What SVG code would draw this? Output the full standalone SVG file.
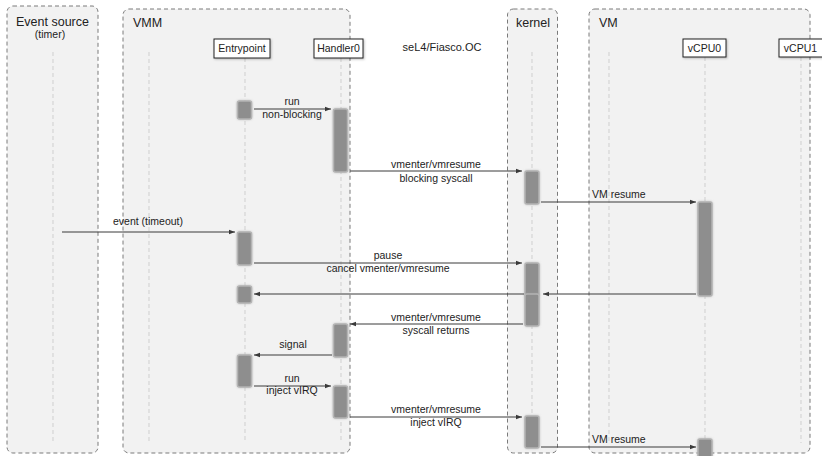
<svg xmlns="http://www.w3.org/2000/svg" width="822" height="456" viewBox="0 0 822 456">
  <style>
    .frame { fill: #f2f2f2; stroke: #7a7a7a; stroke-width: 1; stroke-dasharray: 4 3; }
    .title { font-family: "Liberation Sans", Arial, sans-serif; font-size: 12.5px; fill: #222; }
    .sub { font-family: "Liberation Sans", Arial, sans-serif; font-size: 10.5px; fill: #222; }
    .life { stroke: #cfcfcf; stroke-width: 1; stroke-dasharray: 4 3; fill: none; }
    .head { fill: #fff; stroke: #222; stroke-width: 1; }
    .lbl { font-family: "Liberation Sans", Arial, sans-serif; font-size: 10.5px; fill: #222; }
    .bar { fill: #8e8e8e; stroke: #b4b4b4; stroke-width: 1.5; filter: url(#soft); }
    .msg { stroke: #3a3a3a; stroke-width: 1; fill: none; marker-end: url(#arr); }
  </style>
  <defs>
    <marker id="arr" viewBox="0 0 6 6" refX="6" refY="3" markerWidth="6" markerHeight="6" markerUnits="userSpaceOnUse" orient="auto">
      <path d="M0,0.8 L6,3 L0,5.2 Z" fill="#3a3a3a"/>
    </marker>
    <filter id="soft" x="-40%" y="-20%" width="180%" height="140%">
      <feGaussianBlur in="SourceAlpha" stdDeviation="1.2" result="b"/>
      <feFlood flood-color="#9a9a9a" flood-opacity="0.6"/>
      <feComposite in2="b" operator="in" result="s"/>
      <feMerge><feMergeNode in="s"/><feMergeNode in="SourceGraphic"/></feMerge>
    </filter>
    <filter id="shadow" x="-10%" y="-20%" width="130%" height="160%">
      <feDropShadow dx="1" dy="1" stdDeviation="0.8" flood-color="#000" flood-opacity="0.25"/>
    </filter>
  </defs>

  <!-- grouping frames -->
  <g id="event-source">
    <rect class="frame" x="7" y="6" width="91" height="447" rx="6"/>
    <text class="title" x="52.5" y="26" text-anchor="middle">Event source</text>
    <text class="sub" x="50" y="38" text-anchor="middle">(timer)</text>
    <line class="life" x1="53" y1="52" x2="53" y2="443"/>
  </g>
  <g id="vmm">
    <rect class="frame" x="123" y="9" width="227" height="444" rx="6"/>
    <text class="title" x="133" y="27">VMM</text>
    <line class="life" x1="149" y1="52" x2="149" y2="443"/>
  </g>
  <g id="kernel">
    <rect class="frame" x="507.5" y="9" width="50" height="444" rx="6"/>
    <text class="title" x="516" y="27">kernel</text>
    <line class="life" x1="532" y1="52" x2="532" y2="443"/>
  </g>
  <g id="vm">
    <rect class="frame" x="589" y="9" width="221" height="444" rx="6"/>
    <text class="title" x="599" y="27">VM</text>
    <line class="life" x1="609" y1="52" x2="609" y2="443"/>
  </g>

  <text class="lbl" x="442" y="51" text-anchor="middle" style="font-size:11px">seL4/Fiasco.OC</text>

  <!-- participants -->
  <g id="entrypoint">
    <line class="life" x1="245" y1="58" x2="245" y2="443"/>
    <rect class="head" x="214" y="39" width="56" height="19" filter="url(#shadow)"/>
    <text class="lbl" x="242" y="52" text-anchor="middle">Entrypoint</text>
  </g>
  <g id="handler0">
    <line class="life" x1="341" y1="58" x2="341" y2="443"/>
    <rect class="head" x="314" y="39" width="49" height="19" filter="url(#shadow)"/>
    <text class="lbl" x="338.5" y="52" text-anchor="middle">Handler0</text>
  </g>
  <g id="vcpu0">
    <line class="life" x1="705" y1="57" x2="705" y2="456"/>
    <rect class="head" x="683" y="39" width="43" height="18" filter="url(#shadow)"/>
    <text class="lbl" x="704.5" y="52" text-anchor="middle">vCPU0</text>
  </g>
  <g id="vcpu1">
    <line class="life" x1="801" y1="57" x2="801" y2="443"/>
    <rect class="head" x="779" y="39" width="45" height="18" filter="url(#shadow)"/>
    <text class="lbl" x="800.5" y="52" text-anchor="middle">vCPU1</text>
  </g>

  <!-- activations -->
  <g id="activations">
    <rect class="bar" x="237.5" y="101" width="14" height="18" rx="2"/>
    <rect class="bar" x="237.5" y="232" width="14" height="33" rx="2"/>
    <rect class="bar" x="237.5" y="286" width="14" height="17" rx="2"/>
    <rect class="bar" x="237.5" y="355" width="14" height="32" rx="2"/>
    <rect class="bar" x="333.5" y="109" width="14" height="63" rx="2"/>
    <rect class="bar" x="333.5" y="324" width="14" height="33" rx="2"/>
    <rect class="bar" x="333.5" y="386" width="14" height="32" rx="2"/>
    <rect class="bar" x="525" y="171" width="14" height="33" rx="2"/>
    <rect class="bar" x="525" y="263" width="14" height="33" rx="2"/>
    <rect class="bar" x="525" y="294" width="14" height="32" rx="2"/>
    <rect class="bar" x="525" y="416" width="14" height="32" rx="2"/>
    <rect class="bar" x="698" y="202" width="14" height="94" rx="2"/>
    <rect class="bar" x="698" y="439" width="14" height="30" rx="2"/>
  </g>

  <!-- messages -->
  <g id="connectors">
    <line class="msg" x1="254" y1="109" x2="331" y2="109"/>
    <text class="lbl" x="292" y="105" text-anchor="middle">run</text>
    <text class="lbl" x="292" y="118" text-anchor="middle">non-blocking</text>

    <line class="msg" x1="350" y1="171" x2="522" y2="171"/>
    <text class="lbl" x="436" y="168" text-anchor="middle">vmenter/vmresume</text>
    <text class="lbl" x="436" y="182" text-anchor="middle">blocking syscall</text>

    <line class="msg" x1="541" y1="202" x2="696" y2="202"/>
    <text class="lbl" x="592" y="198">VM resume</text>

    <line class="msg" x1="62" y1="232" x2="235" y2="232"/>
    <text class="lbl" x="148" y="225" text-anchor="middle">event (timeout)</text>

    <line class="msg" x1="254" y1="263" x2="522" y2="263"/>
    <text class="lbl" x="388" y="259" text-anchor="middle">pause</text>
    <text class="lbl" x="388" y="272" text-anchor="middle">cancel vmenter/vmresume</text>

    <line class="msg" x1="696" y1="294" x2="543" y2="294"/>
    <line class="msg" x1="524" y1="294" x2="254" y2="294"/>

    <line class="msg" x1="523" y1="324" x2="350" y2="324"/>
    <text class="lbl" x="436" y="321" text-anchor="middle">vmenter/vmresume</text>
    <text class="lbl" x="436" y="334" text-anchor="middle">syscall returns</text>

    <line class="msg" x1="332" y1="355" x2="254" y2="355"/>
    <text class="lbl" x="293" y="348" text-anchor="middle">signal</text>

    <line class="msg" x1="254" y1="386" x2="331" y2="386"/>
    <text class="lbl" x="292" y="382" text-anchor="middle">run</text>
    <text class="lbl" x="292" y="394" text-anchor="middle">inject vIRQ</text>

    <line class="msg" x1="350" y1="417" x2="522" y2="417"/>
    <text class="lbl" x="436" y="413" text-anchor="middle">vmenter/vmresume</text>
    <text class="lbl" x="436" y="426" text-anchor="middle">inject vIRQ</text>

    <line class="msg" x1="541" y1="447" x2="696" y2="447"/>
    <text class="lbl" x="592" y="443">VM resume</text>
  </g>
</svg>
